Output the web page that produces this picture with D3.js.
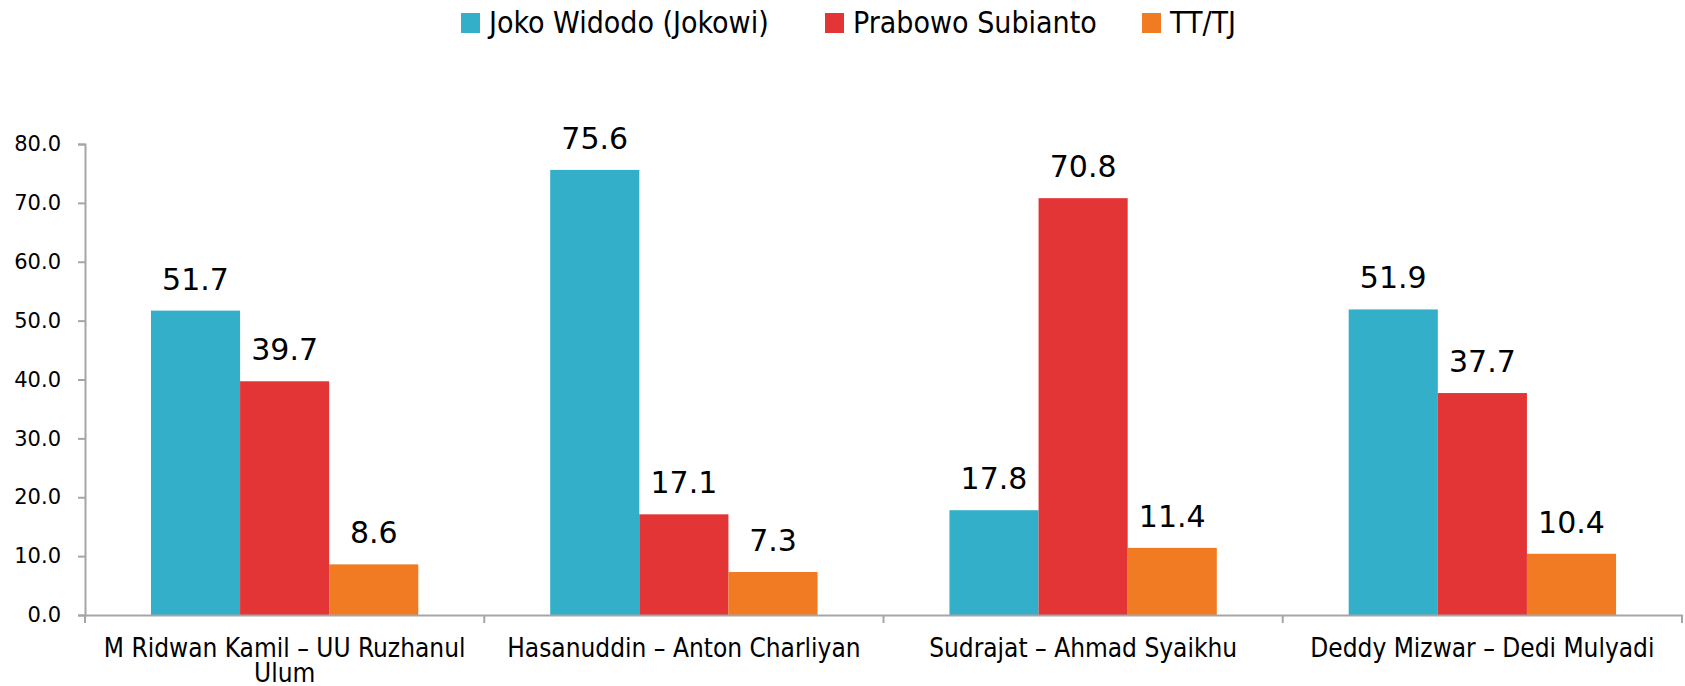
<!DOCTYPE html>
<html>
<head>
<meta charset="utf-8">
<script src="https://cdn.jsdelivr.net/npm/d3@7"></script>
<style>
  body { margin: 0; background: #fff; }
  text { fill: #000; }
</style>
</head>
<body>
<div id="body"></div>
<script>
// chart data
var categories = [
  'M Ridwan Kamil – UU Ruzhanul Ulum',
  'Hasanuddin – Anton Charliyan',
  'Sudrajat – Ahmad Syaikhu',
  'Deddy Mizwar – Dedi Mulyadi'
];
var seriesNames = ['Joko Widodo (Jokowi)', 'Prabowo Subianto', 'TT/TJ'];
var jokowi = [51.7, 75.6, 17.8, 51.9];
var prabowo = [39.7, 17.1, 70.8, 37.7];
var ttTj = [8.6, 7.3, 11.4, 10.4];
var yTicks = [0, 10, 20, 30, 40, 50, 60, 70, 80];
var colors = ['#33afca', '#e43536', '#f07b22'];

var width = 1685, height = 686;
var margin = {top: 144, right: 3, bottom: 71, left: 85};
var labelFont = 'DejaVu Sans Condensed, DejaVu Sans, sans-serif';

// Make the canvas
function makeCanvas () {
  return d3.select('#body')
    .append('svg')
    .attr('width', width)
    .attr('height', height)
    .style('display', 'block');
}

// wrap long category labels
function wrap (sel, maxWidth) {
  sel.each(function () {
    var t = d3.select(this);
    var words = t.text().split(' ');
    var line = [];
    var y = t.attr('y');
    t.text(null);
    var tspan = t.append('tspan').attr('x', 0).attr('y', y).attr('dy', '0em');
    var n = 0;
    words.forEach(function (w) {
      line.push(w);
      tspan.text(line.join(' '));
      if (tspan.node().getComputedTextLength() > maxWidth && line.length > 1) {
        line.pop();
        tspan.text(line.join(' '));
        line = [w];
        n++;
        tspan = t.append('tspan').attr('x', 0).attr('y', y)
          .attr('dy', (n * 0.98) + 'em').text(w);
      }
    });
  });
}

function buildChart () {
  var svg = makeCanvas();

  var x0 = d3.scaleBand()
    .domain(categories)
    .range([margin.left, width - margin.right])
    .padding(0);
  var x1 = d3.scaleBand()
    .domain(seriesNames)
    .range([0, x0.bandwidth()])
    .paddingInner(0)
    .paddingOuter(0.74);
  var y = d3.scaleLinear()
    .domain([0, 80])
    .range([height - margin.bottom, margin.top]);

  var rows = categories.map(function (c, i) {
    return {cat: c, vals: [jokowi[i], prabowo[i], ttTj[i]]};
  });

  // y axis
  var yAxis = svg.append('g')
    .attr('transform', 'translate(' + margin.left + ',0)')
    .call(d3.axisLeft(y).tickValues(yTicks).tickFormat(d3.format('.1f')).tickSize(7).tickPadding(17));
  yAxis.select('.domain').attr('stroke', '#a6a6a6').attr('stroke-width', 2);
  yAxis.selectAll('.tick line').attr('stroke', '#a6a6a6').attr('stroke-width', 2);
  yAxis.selectAll('.tick text')
    .attr('font-family', 'DejaVu Sans, sans-serif')
    .attr('font-size', '21px')
    .attr('fill', '#000');

  // bars
  var groups = svg.selectAll('.grp')
    .data(rows)
    .enter().append('g')
    .attr('class', 'grp')
    .attr('transform', function (d) { return 'translate(' + x0(d.cat) + ',0)'; });

  groups.selectAll('rect')
    .data(function (d) { return d.vals.map(function (v, j) { return {s: seriesNames[j], v: v, j: j}; }); })
    .enter().append('rect')
    .attr('x', function (d) { return x1(d.s); })
    .attr('y', function (d) { return y(d.v); })
    .attr('width', x1.bandwidth())
    .attr('height', function (d) { return y(0) - y(d.v); })
    .attr('fill', function (d) { return colors[d.j]; });

  groups.selectAll('text.val')
    .data(function (d) { return d.vals.map(function (v, j) { return {s: seriesNames[j], v: v}; }); })
    .enter().append('text')
    .attr('class', 'val')
    .attr('x', function (d) { return x1(d.s) + x1.bandwidth() / 2; })
    .attr('y', function (d) { return y(d.v) - 21; })
    .attr('text-anchor', 'middle')
    .attr('font-family', 'DejaVu Sans, sans-serif')
    .attr('font-size', '30px')
    .text(function (d) { return d3.format('.1f')(d.v); });

  // x axis
  var xAxis = svg.append('g')
    .attr('transform', 'translate(0,' + y(0) + ')')
    .call(d3.axisBottom(x0).tickSize(0).tickPadding(0));
  xAxis.select('.domain').attr('stroke', '#a6a6a6').attr('stroke-width', 2);
  xAxis.selectAll('.tick text')
    .attr('font-family', labelFont)
    .attr('font-size', '26px')
    .attr('fill', '#000')
    .attr('y', 42)
    .attr('dy', 0)
    .call(wrap, 390);

  // boundary ticks between categories
  var bounds = categories.map(function (c) { return x0(c); }).concat([x0.range()[1]]);
  svg.append('g').selectAll('line')
    .data(bounds)
    .enter().append('line')
    .attr('x1', function (d) { return d; })
    .attr('x2', function (d) { return d; })
    .attr('y1', y(0))
    .attr('y2', y(0) + 8)
    .attr('stroke', '#a6a6a6')
    .attr('stroke-width', 2);

  insertLegend(svg);
}

// Make the legend
function insertLegend (svg) {
  var legendX = [461, 825, 1142];
  var legend = svg.append('g');
  var items = legend.selectAll('g')
    .data(seriesNames)
    .enter().append('g')
    .attr('transform', function (d, i) { return 'translate(' + legendX[i] + ',0)'; });
  items.append('rect')
    .attr('x', 0).attr('y', 13)
    .attr('width', 19).attr('height', 20)
    .attr('fill', function (d, i) { return colors[i]; });
  items.append('text')
    .attr('x', 28).attr('y', 33)
    .attr('font-family', labelFont)
    .attr('font-size', '30px')
    .text(function (d) { return d; });
}

buildChart();
</script>
</body>
</html>
